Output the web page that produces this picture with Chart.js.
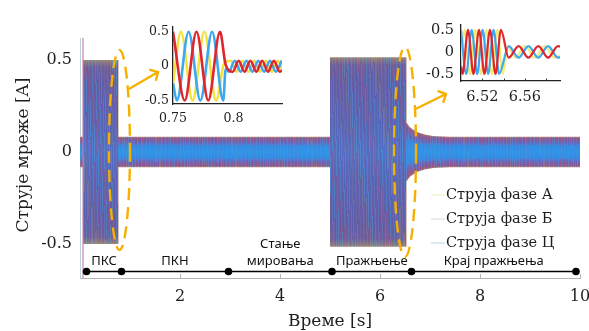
<!DOCTYPE html>
<html>
<head>
<meta charset="utf-8">
<script src="https://cdn.jsdelivr.net/npm/chart.js@4.4.1/dist/chart.umd.min.js"></script>
<style>
html, body { margin: 0; padding: 0; background: #fff; }
#wrap { position: relative; width: 589px; height: 331px; overflow: hidden; }
#wrap canvas { position: absolute; }
</style>
</head>
<body>
<div id="wrap">
  <canvas id="main" width="589" height="331" style="left:0;top:0;width:589px;height:331px"></canvas>
  <canvas id="zoomA" width="150" height="112" style="left:135px;top:18px;width:150px;height:112px"></canvas>
  <canvas id="zoomB" width="140" height="96" style="left:425px;top:14px;width:140px;height:96px"></canvas>
</div>
<script>
// envelope of the three phase currents (50 Hz is too dense to see, so it is a band)
const envT   = [0, 0.06, 0.06, 0.77, 0.77, 5.0, 5.0, 6.53, 6.53, 6.6, 6.73, 6.9, 7.07, 7.4, 10];
const envAmp = [0.083, 0.083, 0.5, 0.5, 0.083, 0.083, 0.515, 0.515, 0.16, 0.135, 0.11, 0.095, 0.087, 0.083, 0.083];
// switch-on transient line
const spikeT = [0.06, 0.06];
const spikeV = [0.8, -0.8];

// phase boundaries of the timeline and their names
const phaseT = [0.13, 0.83, 2.97, 5.04, 6.63, 9.92];
const phaseNames = [["ПКС"], ["ПКН"], ["Стање", "мировања"], ["Пражњење"], ["Крај пражњења"]];
const legendNames = ["Струја фазе А", "Струја фазе Б", "Струја фазе Ц"];

const xTicks = [2, 4, 6, 8, 10];
const yTicks = [-0.5, 0, 0.5];

// zoom 1: around end of ПКС  [t, i]
const zoomA_A = [[0.75,0.5],[0.7597,-0.5],[0.7694,0.5],[0.7791,-0.5],[0.7888,0.5],[0.7935,0.02],[0.7994,-0.08],[0.8042,0.08],[0.8090,-0.08],[0.8139,0.08],[0.8187,-0.08],[0.8236,0.08],[0.8284,-0.08],[0.8333,0.08],[0.8381,-0.08],[0.84,-0.06]];
const zoomA_B = [[0.75,-0.25],[0.7565,0.5],[0.7662,-0.5],[0.7759,0.5],[0.7856,-0.5],[0.7925,0.05],[0.7977,0.08],[0.8026,-0.08],[0.8074,0.08],[0.8122,-0.08],[0.8171,0.08],[0.8219,-0.08],[0.8268,0.08],[0.8316,-0.08],[0.8365,0.08],[0.84,-0.04]];
const zoomA_C = [[0.75,-0.25],[0.7532,-0.5],[0.7629,0.5],[0.7726,-0.5],[0.7823,0.5],[0.7915,-0.5],[0.7935,-0.04],[0.7961,-0.08],[0.8010,0.08],[0.8058,-0.08],[0.8107,0.08],[0.8155,-0.08],[0.8204,0.08],[0.8252,-0.08],[0.8301,0.08],[0.8349,-0.08],[0.8398,0.08]];
const zoomA_xTicks = [0.75, 0.8];

// zoom 2: around end of Пражњење
const zoomB_A = [[6.50,-0.33],[6.5014,-0.5],[6.5066,0.5],[6.5117,-0.5],[6.5169,0.5],[6.5220,-0.5],[6.5272,0.5],[6.5324,-0.5],[6.5375,0.5],[6.5448,-0.13],[6.5541,0.13],[6.5633,-0.13],[6.5726,0.13],[6.5818,-0.13],[6.5911,0.13],[6.593,0.12]];
const zoomB_B = [[6.50,-0.17],[6.5032,0.5],[6.5083,-0.5],[6.5135,0.5],[6.5186,-0.5],[6.5238,0.5],[6.5289,-0.5],[6.5341,0.5],[6.5392,-0.5],[6.5440,0.12],[6.5510,-0.13],[6.5603,0.13],[6.5695,-0.13],[6.5788,0.13],[6.5880,-0.13],[6.593,-0.09]];
const zoomB_C = [[6.50,0.49],[6.5049,-0.5],[6.5100,0.5],[6.5152,-0.5],[6.5203,0.5],[6.5255,-0.5],[6.5306,0.5],[6.5358,-0.5],[6.5448,0.13],[6.5541,-0.13],[6.5633,0.13],[6.5726,-0.13],[6.5818,0.13],[6.5911,-0.13],[6.593,-0.12]];
const zoomB_xTicks = [6.52, 6.54, 6.56, 6.58];
const zoomB_xLabels = [6.52, 6.56];

const timelineY = -0.65;
const serif = '"DejaVu Serif", serif';

// ---- texture for the dense band (style only) ----
const smallPal = [[0,[45,150,235]],[0.4,[52,140,228]],[0.6,[95,105,195]],[0.8,[130,88,155]],[0.92,[145,92,140]],[1,[180,140,118]]];
const bigPal   = [[0,[80,112,198]],[0.3,[86,100,182]],[0.75,[94,92,168]],[0.92,[106,94,156]],[0.98,[138,124,128]],[1,[160,142,116]]];
const streaks  = [[210,70,90,0.2],[70,185,230,0.32],[235,215,90,0.14],[70,95,200,0.2],[140,75,150,0.22],[95,165,228,0.25],
                  [190,80,120,0.18],[100,100,190,0.1],[70,195,220,0.26],[165,85,135,0.2],[85,120,210,0.15],[210,150,100,0.14],
                  [120,90,170,0.12]];

function ampAt(t) {
  for (let i = 0; i < envT.length - 1; i++) {
    if (t >= envT[i] && t < envT[i + 1]) {
      const f = (t - envT[i]) / (envT[i + 1] - envT[i]);
      return envAmp[i] + f * (envAmp[i + 1] - envAmp[i]);
    }
  }
  return envAmp[envAmp.length - 1];
}

function palColor(pal, r) {
  for (let i = 0; i < pal.length - 1; i++) {
    if (r <= pal[i + 1][0]) {
      const f = (r - pal[i][0]) / (pal[i + 1][0] - pal[i][0]);
      const a = pal[i][1], b = pal[i + 1][1];
      return [a[0] + f * (b[0] - a[0]), a[1] + f * (b[1] - a[1]), a[2] + f * (b[2] - a[2])];
    }
  }
  return pal[pal.length - 1][1];
}

function bandFill(chart) {
  if (!chart.chartArea) return 'rgba(0,0,0,0)';
  if (chart.$bandPat) return chart.$bandPat;
  const xs = chart.scales.x, ys = chart.scales.y;
  const w = chart.width, h = chart.height;
  const off = document.createElement('canvas');
  off.width = w; off.height = h;
  const c = off.getContext('2d');
  const img = c.createImageData(w, h);
  const y0 = ys.getPixelForValue(0);
  const k = ys.getPixelForValue(0) - ys.getPixelForValue(1);
  const n = streaks.length;
  for (let px = 0; px < w; px++) {
    const a = Math.max(ampAt(xs.getValueForPixel(px + 0.5)), 0.01);
    const pal = a > 0.3 ? bigPal : smallPal;
    for (let py = 0; py < h; py++) {
      const r = Math.min(1, Math.abs(py + 0.5 - y0) / (k * a));
      const base = palColor(pal, r);
      const s = streaks[(px * 11 + (px >> 2) * 3 + ((py + px * 3) / 37 | 0) * 5) % n];
      let wt = s[3];
      if (pal === smallPal && r < 0.45) wt *= 0.35;
      const o = (py * w + px) * 4;
      img.data[o]     = base[0] * (1 - wt) + s[0] * wt;
      img.data[o + 1] = base[1] * (1 - wt) + s[1] * wt;
      img.data[o + 2] = base[2] * (1 - wt) + s[2] * wt;
      img.data[o + 3] = 255;
    }
  }
  c.putImageData(img, 0, 0);
  chart.$bandPat = chart.ctx.createPattern(off, 'no-repeat');
  return chart.$bandPat;
}

// titles, timeline labels, legend and the zoom marks
const decor = {
  id: 'decor',
  afterDraw(chart) {
    const { ctx, scales: { x, y } } = chart;
    ctx.save();
    ctx.strokeStyle = '#b4b4b4';
    ctx.lineWidth = 1;
    xTicks.forEach(v => {
      const px = Math.round(x.getPixelForValue(v)) + 0.5;
      ctx.beginPath(); ctx.moveTo(px, y.bottom); ctx.lineTo(px, y.bottom - 4); ctx.stroke();
    });

    ctx.fillStyle = '#1e1e1e';
    ctx.textAlign = 'center';
    ctx.textBaseline = 'middle';
    ctx.font = '17px ' + serif;
    ctx.fillText('Време [s]', 330, 322);
    ctx.save();
    ctx.translate(24, 155);
    ctx.rotate(-Math.PI / 2);
    ctx.fillText('Струје мреже [A]', 0, 0);
    ctx.restore();

    ctx.font = '13px "Noto Sans", sans-serif';
    ctx.fillStyle = '#111';
    const base = y.getPixelForValue(timelineY) - 10;
    phaseNames.forEach((lines, i) => {
      const cx = x.getPixelForValue((phaseT[i] + phaseT[i + 1]) / 2);
      lines.forEach((s, j) => ctx.fillText(s, cx, base - (lines.length - 1 - j) * 17));
    });

    const legendColors = ['#e6edc0', '#cfdcd8', '#b6d6e2'];
    ctx.font = '14.5px ' + serif;
    ctx.textAlign = 'left';
    ctx.fillStyle = '#1e1e1e';
    legendNames.forEach((s, i) => {
      const ly = 195 + i * 24;
      ctx.strokeStyle = legendColors[i];
      ctx.beginPath(); ctx.moveTo(431, ly); ctx.lineTo(445, ly); ctx.stroke();
      ctx.fillText(s, 446, ly);
    });

    ctx.strokeStyle = '#f5b000';
    ctx.lineWidth = 2.4;
    ctx.setLineDash([12, 7]);
    const e1 = { cx: x.getPixelForValue(0.79), cy: 150, rx: 10.5, ry: 100 };
    const e2 = { cx: x.getPixelForValue(6.5), cy: 152, rx: 11, ry: 105 };
    [e1, e2].forEach(e => {
      ctx.beginPath(); ctx.ellipse(e.cx, e.cy, e.rx, e.ry, 0, 0, Math.PI * 2); ctx.stroke();
    });
    ctx.setLineDash([]);
    const arrow = (x0, y0, x1, y1) => {
      const ang = Math.atan2(y1 - y0, x1 - x0);
      ctx.beginPath(); ctx.moveTo(x0, y0); ctx.lineTo(x1, y1); ctx.stroke();
      ctx.beginPath();
      ctx.moveTo(x1 - 9 * Math.cos(ang - 0.8), y1 - 9 * Math.sin(ang - 0.8));
      ctx.lineTo(x1, y1);
      ctx.lineTo(x1 - 9 * Math.cos(ang + 0.8), y1 - 9 * Math.sin(ang + 0.8));
      ctx.stroke();
    };
    arrow(e1.cx + 9.5, 89, 158, 72);
    arrow(e2.cx + 10.5, 109, 446, 94);
    ctx.restore();
  }
};

new Chart(document.getElementById('main'), {
  type: 'line',
  data: {
    datasets: [
      { data: phaseT.map(t => ({ x: t, y: timelineY })), borderColor: '#000', borderWidth: 1.6,
        pointRadius: 3.8, pointBackgroundColor: '#000', pointBorderWidth: 0, fill: false },
      { data: spikeT.map((t, i) => ({ x: t, y: spikeV[i] })), borderColor: 'rgba(205,130,170,0.5)',
        borderWidth: 1, pointRadius: 0, fill: false },
      { data: envT.map((t, i) => ({ x: t, y: envAmp[i] })), borderColor: 'rgba(0,0,0,0)',
        borderWidth: 1, pointRadius: 0, fill: false },
      { data: envT.map((t, i) => ({ x: t, y: -envAmp[i] })), borderColor: 'rgba(0,0,0,0)',
        borderWidth: 1, pointRadius: 0, fill: '-1', backgroundColor: c => bandFill(c.chart) }
    ]
  },
  options: {
    responsive: false,
    animation: false,
    devicePixelRatio: 1,
    layout: { padding: { left: 0, top: 38, right: 9, bottom: 0 } },
    plugins: { legend: { display: false }, tooltip: { enabled: false } },
    scales: {
      x: {
        type: 'linear', min: 0, max: 10,
        afterBuildTicks: s => { s.ticks = xTicks.map(v => ({ value: v })); },
        afterFit: s => { s.height = 53; s.paddingLeft = 0; s.paddingRight = 0; },
        grid: { display: false, drawTicks: false },
        border: { display: true, color: '#b4b4b4', width: 1 },
        ticks: { font: { family: serif, size: 16 }, color: '#1e1e1e', padding: 9, maxRotation: 0, autoSkip: false,
                 callback: v => String(v) }
      },
      y: {
        type: 'linear', min: -0.685, max: 0.62,
        afterBuildTicks: s => { s.ticks = yTicks.map(v => ({ value: v })); },
        afterFit: s => { s.width = 80; s.paddingTop = 0; s.paddingBottom = 0; },
        grid: { display: false, drawTicks: false },
        border: { display: true, color: '#b9d2dd', width: 1 },
        ticks: { font: { family: serif, size: 16 }, color: '#1e1e1e', padding: 8, callback: v => String(v) }
      }
    }
  },
  plugins: [decor]
});

function zoomChart(id, phases, o) {
  const innerTicks = {
    id: 'innerTicks',
    afterDraw(chart) {
      if (!o.innerTicks) return;
      const { ctx, scales: { x, y } } = chart;
      ctx.save();
      ctx.strokeStyle = '#333';
      ctx.lineWidth = 1;
      o.xTicks.forEach(v => {
        const px = Math.round(x.getPixelForValue(v)) + 0.5;
        ctx.beginPath(); ctx.moveTo(px, y.bottom); ctx.lineTo(px, y.bottom - 2.5); ctx.stroke();
      });
      ctx.restore();
    }
  };
  return new Chart(document.getElementById(id), {
    type: 'line',
    data: {
      datasets: phases.map((p, i) => ({
        data: p.map(q => ({ x: q[0], y: q[1] })),
        borderColor: o.colors[i], borderWidth: o.lw, pointRadius: 0,
        cubicInterpolationMode: 'monotone', fill: false
      }))
    },
    options: {
      responsive: false,
      animation: false,
      devicePixelRatio: 1,
      layout: { padding: { left: 0, top: o.padTop, right: o.padRight, bottom: 0 } },
      plugins: { legend: { display: false }, tooltip: { enabled: false } },
      scales: {
        x: {
          type: 'linear', min: o.xMin, max: o.xMax,
          afterBuildTicks: s => { s.ticks = o.xTicks.map(v => ({ value: v })); },
          afterFit: s => { s.height = o.xH; s.paddingLeft = 0; s.paddingRight = 0; },
          grid: { display: false, drawTicks: false },
          border: { display: true, color: '#222', width: 1.3 },
          ticks: { font: { family: serif, size: o.font }, color: '#1e1e1e', padding: o.xPad, maxRotation: 0, autoSkip: false,
                   callback: v => o.xLabels.includes(v) ? String(v) : '' }
        },
        y: {
          type: 'linear', min: o.yMin, max: o.yMax,
          afterBuildTicks: s => { s.ticks = yTicks.map(v => ({ value: v })); },
          afterFit: s => { s.width = o.yW; s.paddingTop = 0; s.paddingBottom = 0; },
          grid: { display: false, drawTicks: false },
          border: { display: true, color: '#222', width: 1.3 },
          ticks: { font: { family: serif, size: o.font }, color: '#1e1e1e', padding: o.yPad, callback: v => String(v) }
        }
      }
    },
    plugins: [innerTicks]
  });
}

zoomChart('zoomA', [zoomA_A, zoomA_C, zoomA_B], {
  colors: ['#de262c', '#3ba8ef', '#f3e23a'], lw: 2.6,
  xMin: 0.75, xMax: 0.84, yMin: -0.55, yMax: 0.57,
  xTicks: zoomA_xTicks, xLabels: zoomA_xTicks, innerTicks: false,
  padTop: 9, padRight: 3, xH: 26, yW: 38, font: 12.5, xPad: 7, yPad: 4
});

zoomChart('zoomB', [zoomB_A, zoomB_C, zoomB_B], {
  colors: ['#e1262b', '#3da8ef', '#f5ec78'], lw: 2.2,
  xMin: 6.50, xMax: 6.593, yMin: -0.66, yMax: 0.61,
  xTicks: zoomB_xTicks, xLabels: zoomB_xLabels, innerTicks: true,
  padTop: 11, padRight: 5, xH: 29, yW: 36, font: 14.5, xPad: 8, yPad: 7
});
</script>
</body>
</html>
